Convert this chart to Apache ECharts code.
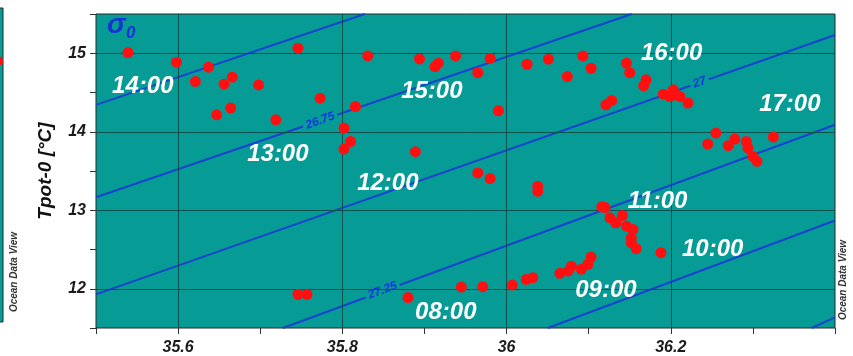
<!DOCTYPE html>
<html><head><meta charset="utf-8">
<script src="https://cdn.jsdelivr.net/npm/echarts@6/dist/echarts.min.js"></script>
<style>html,body{margin:0;padding:0;background:#fff}#c{width:853px;height:356px}</style>
</head><body><div id="c"></div>
<script>
// Salinity / potential temperature samples
const salinity = [35.539,35.598,35.637,35.621,35.656,35.666,35.698,35.746,35.773,35.647,35.664,35.719,35.802,35.810,35.802,35.816,35.889,35.965,35.980,35.990,
  35.831,35.894,35.913,35.917,35.938,35.980,35.965,36.025,36.051,36.074,36.093,36.103,36.146,36.150,36.170,36.167,36.121,36.128,36.191,36.203,
  36.199,36.207,36.211,36.221,36.245,36.255,36.270,36.278,36.292,36.294,36.300,36.305,36.325,36.038,36.038,36.116,36.120,36.126,36.133,36.141,
  36.146,36.154,36.152,36.152,36.158,36.188,36.103,36.099,36.091,36.079,36.075,36.065,36.032,36.024,36.007,35.971,35.945,35.880,35.746,35.757];
const temperature = [15.008,14.886,14.822,14.639,14.606,14.695,14.597,15.064,14.428,14.216,14.301,14.152,14.047,13.877,13.780,14.321,13.746,13.475,13.403,14.267,
  14.966,14.928,14.830,14.873,14.966,14.936,14.753,14.860,14.924,14.703,14.966,14.809,14.873,14.753,14.661,14.584,14.343,14.398,14.479,14.534,
  14.449,14.470,14.449,14.365,13.844,13.983,13.822,13.907,13.877,13.793,13.686,13.623,13.933,13.305,13.241,13.043,13.034,12.903,12.840,12.933,
  12.797,12.755,12.649,12.586,12.510,12.459,12.403,12.310,12.247,12.288,12.225,12.196,12.141,12.119,12.047,12.027,12.022,11.887,11.929,11.929];

const timeLabels = ['14:00','13:00','12:00','15:00','16:00','17:00','11:00','10:00','09:00','08:00'];
const timeLabelS = [35.557,35.7215,35.8554,35.909,36.201,36.345,36.184,36.251,36.121,35.926];
const timeLabelT = [14.584,13.708,13.339,14.508,15.004,14.343,13.111,12.501,11.979,11.699];

const xTickLabels = [35.6,35.8,36,36.2];
const yTickLabels = [12,13,14,15];

// sigma-0 isopycnals (end points, salinity / temperature)
const sigmaLevels = ['26.5','26.75','27','27.25','27.5','27.75'];
const isoS = [[35.5,35.8274],[35.5,36.1525],[35.5,36.4],[35.7276,36.4],[36.0502,36.4],[36.3716,36.4]];
const isoT = [[14.343,15.5],[13.166,15.5],[11.929,15.233],[11.5,14.089],[11.5,12.869],[11.5,11.636]];
const contourLabels = ['26.75','27','27.25'];
const contourLabelS = [35.773,36.235,35.849];
const contourLabelT = [14.14,14.63,11.977];

const TEAL = '#079b96';
const FONT = 'Liberation Sans, Arial, sans-serif';
const near = (v, arr) => arr.some(a => Math.abs(a - v) < 1e-6);

const chart = echarts.init(document.getElementById('c'), null, {renderer: 'canvas'});

const series = [];
// grid lines at major ticks
series.push({
  type: 'line', data: [], z: 1, silent: true, animation: false,
  markLine: {
    silent: true, animation: false, symbol: ['none','none'],
    label: {show: false},
    lineStyle: {color: '#0b4f4c', width: 1, type: 'solid'},
    data: xTickLabels.map(v => ({xAxis: v})).concat(yTickLabels.map(v => ({yAxis: v})))
  }
});
// isopycnals
sigmaLevels.forEach((lv, i) => {
  series.push({
    type: 'line', name: lv, z: 2, silent: true, animation: false,
    symbol: 'none', clip: true,
    lineStyle: {color: '#1744cf', width: 2},
    data: isoS[i].map((s, k) => [s, isoT[i][k]])
  });
});
// contour labels
series.push({
  type: 'scatter', z: 4, silent: true, animation: false,
  symbolSize: 1, itemStyle: {color: TEAL, opacity: 1},
  emphasis: {disabled: true},
  data: contourLabels.map((l, i) => ({name: l, value: [contourLabelS[i], contourLabelT[i]]})),
  label: {
    show: true, position: 'inside', formatter: '{b}', rotate: 20,
    color: '#0f34e6', fontSize: 12, fontWeight: 'bold', fontStyle: 'italic', fontFamily: FONT,
    backgroundColor: TEAL, padding: [0, 3], textBorderWidth: 0, opacity: 1
  }
});
// data points
series.push({
  type: 'scatter', z: 5, animation: false, symbolSize: 11,
  itemStyle: {color: '#ff1010', opacity: 1},
  data: salinity.map((s, i) => [s, temperature[i]])
});
// time labels
series.push({
  type: 'scatter', z: 6, silent: true, animation: false,
  symbolSize: 1, itemStyle: {color: TEAL, opacity: 1},
  emphasis: {disabled: true},
  data: timeLabels.map((l, i) => ({name: l, value: [timeLabelS[i], timeLabelT[i]]})),
  label: {
    show: true, position: 'inside', formatter: '{b}',
    color: '#ffffff', fontSize: 24, fontWeight: 'bold', fontStyle: 'italic', fontFamily: FONT,
    textBorderWidth: 0, opacity: 1
  }
});

const axisText = {color: '#1a1a1a', fontSize: 16, fontWeight: 'bold', fontStyle: 'italic', fontFamily: FONT};

chart.setOption({
  backgroundColor: '#ffffff',
  animation: false,
  grid: {left: 96, top: 14, right: 18, bottom: 28, show: true, backgroundColor: TEAL, borderColor: '#1e2b2b', borderWidth: 1},
  xAxis: {
    type: 'value', min: 35.5, max: 36.4, interval: 0.1,
    axisLine: {show: false},
    axisTick: {show: true, length: 6, lineStyle: {color: '#333'}},
    splitLine: {show: false},
    axisLabel: Object.assign({margin: 12, showMinLabel: true, showMaxLabel: true,
      formatter: v => near(v, xTickLabels) ? String(+v.toFixed(1)) : ''}, axisText)
  },
  yAxis: {
    type: 'value', min: 11.5, max: 15.5, interval: 0.5,
    axisLine: {show: false},
    axisTick: {show: true, length: 6, lineStyle: {color: '#333'}},
    splitLine: {show: false},
    axisLabel: Object.assign({margin: 10,
      formatter: v => near(v, yTickLabels) ? String(Math.round(v)) : ''}, axisText),
    name: 'Tpot-0 [°C]', nameLocation: 'middle', nameRotate: 90, nameGap: 41,
    nameTextStyle: {color: '#111', fontSize: 19, fontWeight: 'bold', fontStyle: 'italic', fontFamily: FONT}
  },
  series: series,
  graphic: [
    {type: 'rect', shape: {x: -20, y: 8, width: 23, height: 314}, style: {fill: TEAL, stroke: '#1e2b2b', lineWidth: 1}, silent: true},
    {type: 'circle', shape: {cx: -2, cy: 61, r: 5}, style: {fill: '#ff1010'}, silent: true},
    {type: 'text', x: 107, y: 11, style: {text: 'σ', fill: '#1733d6', fontSize: 28, fontWeight: 'bold', fontStyle: 'italic', fontFamily: FONT}, silent: true},
    {type: 'text', x: 126, y: 25, style: {text: '0', fill: '#1733d6', fontSize: 17, fontWeight: 'bold', fontStyle: 'italic', fontFamily: FONT}, silent: true},
    {type: 'text', x: 843, y: 280, rotation: Math.PI / 2, style: {text: 'Ocean Data View', fill: '#333', fontSize: 10, fontWeight: 'bold', fontStyle: 'italic', fontFamily: FONT, align: 'center', verticalAlign: 'middle'}, silent: true},
    {type: 'text', x: 14, y: 272, rotation: Math.PI / 2, style: {text: 'Ocean Data View', fill: '#333', fontSize: 10, fontWeight: 'bold', fontStyle: 'italic', fontFamily: FONT, align: 'center', verticalAlign: 'middle'}, silent: true},
    {type: 'text', x: 268, y: 4, style: {text: '10', fill: '#222', fontSize: 16, fontWeight: 'bold', fontStyle: 'italic', fontFamily: FONT, align: 'center', verticalAlign: 'bottom'}, silent: true},
    {type: 'text', x: 552, y: 4, style: {text: '15', fill: '#222', fontSize: 16, fontWeight: 'bold', fontStyle: 'italic', fontFamily: FONT, align: 'center', verticalAlign: 'bottom'}, silent: true},
    {type: 'text', x: 836, y: 4, style: {text: '20', fill: '#222', fontSize: 16, fontWeight: 'bold', fontStyle: 'italic', fontFamily: FONT, align: 'center', verticalAlign: 'bottom'}, silent: true}
  ]
});
</script>
</body></html>
